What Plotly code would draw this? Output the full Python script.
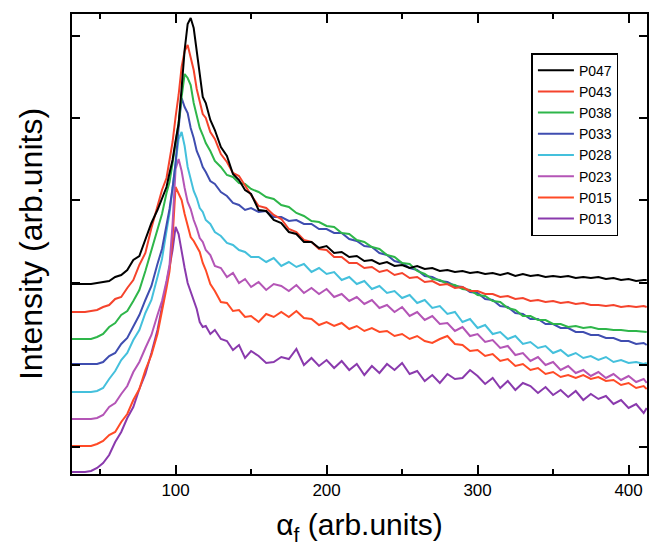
import plotly.graph_objects as go

# x positions (alpha_f, arb. units)
alpha_f = [31, 36, 40, 44, 48, 52, 56, 60, 64, 68,
           72, 76, 80, 84, 88, 91, 94, 96, 98, 100,
           102, 104, 106, 108, 110, 112, 114, 116, 118, 120,
           123, 126, 130, 134, 138, 142, 146, 150, 155, 160,
           165, 170, 175, 180, 185, 190, 195, 200, 205, 210,
           215, 220, 225, 230, 235, 240, 245, 250, 255, 260,
           265, 270, 275, 280, 285, 290, 295, 300, 305, 310,
           315, 320, 325, 330, 335, 340, 345, 350, 355, 360,
           365, 370, 375, 380, 385, 390, 395, 400, 405, 410,
           412]

i_p047 = [190, 190, 190, 190, 191, 192, 193, 197, 199, 204,
          214, 218, 234, 251, 264, 276, 287, 301, 314, 333,
          350, 386, 424, 450, 456, 446, 424, 399, 377, 371,
          354, 344, 327, 318, 300, 294, 284, 280, 264, 263,
          254, 251, 242, 240, 232, 232, 226, 228, 221, 222,
          217, 218, 213, 214, 210, 212, 208, 209, 206, 208,
          205, 206, 203, 204, 202, 203, 201, 202, 200, 201,
          199, 201, 198, 200, 198, 199, 197, 198, 197, 198,
          196, 197, 196, 197, 195, 196, 194, 195, 193, 194,
          194]

i_p043 = [162, 162, 162, 163, 164, 167, 169, 175, 177, 186,
          194, 209, 221, 246, 268, 284, 296, 315, 332, 357,
          379, 407, 423, 429, 417, 404, 385, 372, 360, 356,
          342, 335, 320, 312, 301, 298, 288, 279, 268, 266,
          259, 255, 245, 242, 234, 232, 225, 224, 217, 217,
          211, 211, 206, 207, 202, 204, 199, 201, 196, 197,
          192, 193, 189, 190, 186, 187, 183, 183, 180, 180,
          177, 178, 175, 176, 173, 174, 172, 173, 171, 172,
          170, 171, 169, 169, 168, 169, 167, 168, 167, 168,
          167]

i_p038 = [135, 135, 135, 135, 137, 140, 147, 151, 159, 163,
          173, 184, 203, 224, 246, 260, 281, 292, 311, 329,
          351, 377, 400, 396, 389, 371, 359, 346, 339, 331,
          323, 313, 307, 299, 297, 291, 290, 285, 282, 277,
          275, 269, 267, 261, 258, 253, 252, 248, 247, 241,
          240, 234, 232, 227, 225, 219, 217, 211, 210, 203,
          200, 195, 194, 190, 189, 185, 184, 179, 178, 173,
          172, 166, 164, 158, 158, 154, 154, 150, 150, 147,
          148, 146, 147, 145, 145, 144, 144, 143, 143, 142,
          142]

i_p033 = [110, 110, 110, 110, 110, 112, 118, 121, 130, 136,
          148, 159, 174, 188, 210, 225, 249, 265, 286, 311,
          346, 376, 367, 361, 346, 336, 323, 316, 307, 302,
          293, 290, 282, 278, 271, 269, 264, 266, 262, 263,
          257, 257, 253, 254, 250, 250, 245, 245, 241, 241,
          235, 233, 228, 227, 221, 219, 213, 211, 206, 204,
          198, 197, 193, 192, 188, 187, 182, 181, 175, 174,
          168, 167, 161, 160, 155, 155, 150, 150, 146, 146,
          142, 142, 139, 139, 136, 136, 133, 133, 130, 131,
          129]

i_p028 = [82, 82, 82, 82, 83, 86, 95, 103, 114, 121,
          134, 144, 161, 174, 197, 215, 243, 261, 286, 312,
          335, 342, 328, 307, 295, 283, 276, 266, 262, 254,
          250, 242, 238, 231, 229, 224, 222, 217, 217, 212,
          216, 208, 212, 207, 210, 202, 206, 200, 202, 194,
          197, 190, 193, 185, 188, 181, 183, 176, 179, 171,
          174, 166, 168, 160, 162, 152, 155, 146, 149, 140,
          142, 135, 138, 130, 132, 126, 128, 121, 124, 118,
          121, 116, 118, 114, 117, 112, 114, 111, 112, 110,
          111]

i_p023 = [55, 55, 55, 55, 56, 59, 67, 71, 80, 88,
          102, 112, 126, 139, 159, 173, 193, 209, 250, 305,
          315, 303, 286, 272, 265, 254, 246, 236, 232, 224,
          219, 208, 206, 197, 201, 191, 195, 187, 192, 184,
          190, 188, 183, 189, 181, 186, 180, 185, 177, 180,
          173, 177, 170, 174, 166, 169, 162, 167, 158, 162,
          154, 158, 150, 151, 143, 147, 138, 140, 132, 134,
          126, 128, 119, 121, 113, 117, 109, 112, 104, 108,
          101, 104, 98, 102, 96, 100, 94, 98, 92, 95,
          91]

i_p015 = [28, 28, 28, 28, 30, 33, 39, 42, 52, 60,
          74, 85, 104, 119, 140, 162, 186, 203, 236, 287,
          281, 274, 260, 249, 237, 233, 228, 222, 211, 204,
          190, 183, 172, 171, 163, 164, 157, 158, 152, 160,
          157, 162, 157, 163, 156, 155, 149, 152, 148, 151,
          145, 148, 143, 146, 142, 143, 138, 140, 135, 138,
          133, 131, 135, 138, 130, 129, 123, 124, 118, 120,
          113, 115, 108, 110, 104, 106, 100, 102, 97, 99,
          96, 99, 95, 97, 93, 94, 89, 91, 86, 88,
          85]

i_p013 = [2, 2, 2, 3, 6, 11, 19, 32, 42, 56,
          67, 85, 100, 121, 144, 167, 189, 207, 224, 247,
          240, 221, 206, 191, 183, 173, 165, 152, 147, 148,
          140, 144, 135, 133, 124, 129, 116, 123, 118, 111,
          112, 117, 115, 125, 109, 116, 108, 114, 106, 113,
          104, 110, 99, 108, 101, 110, 104, 111, 100, 103,
          93, 99, 91, 100, 95, 96, 104, 98, 90, 96,
          86, 93, 84, 91, 88, 81, 87, 79, 84, 77,
          83, 74, 80, 75, 78, 70, 74, 66, 70, 61,
          66]

sample_names = ["P013", "P015", "P023", "P028", "P033", "P038", "P043", "P047"]
sample_values = [i_p013, i_p015, i_p023, i_p028, i_p033, i_p038, i_p043, i_p047]
sample_colors = ["#8a3aad", "#ff4a26", "#b455b6", "#44c0dc", "#3f4db0", "#2eb64a", "#f5432c", "#000000"]

x_ticks = [100, 200, 300, 400]
y_tick_start = 27
y_tick_step = 82.2

fig = go.Figure()
for name, vals, col in zip(sample_names, sample_values, sample_colors):
    fig.add_trace(go.Scatter(x=alpha_f, y=vals, mode="lines", name=name,
                             line=dict(color=col, width=2)))

axis_common = dict(showgrid=False, zeroline=False, showline=True, linecolor="black",
                   linewidth=2, mirror="ticks", ticks="inside", tickcolor="black",
                   tickwidth=1.5)

fig.update_layout(
    width=649, height=548,
    margin=dict(l=72, r=0, t=14, b=74),
    paper_bgcolor="white", plot_bgcolor="white",
    font=dict(family="Liberation Sans, Arial, sans-serif", color="black"),
    legend=dict(x=0.799, y=0.915, xanchor="left", yanchor="top",
                bordercolor="black", borderwidth=1.5, bgcolor="white",
                font=dict(size=14), traceorder="reversed", tracegroupgap=0,
                itemwidth=36),
    xaxis=dict(range=[31.4, 412.2], tickmode="array", tickvals=x_ticks,
               ticklen=9, tickfont=dict(size=17),
               minor=dict(dtick=50, tick0=0, ticklen=5, ticks="inside",
                          tickcolor="black", tickwidth=1.5),
               title=dict(text="α<sub>f</sub> (arb.units)", font=dict(size=30), standoff=15),
               **axis_common),
    yaxis=dict(range=[0, 460], tick0=y_tick_start, dtick=y_tick_step, ticklen=8,
               showticklabels=False,
               title=dict(text="Intensity (arb.units)", font=dict(size=32), standoff=18),
               **axis_common),
)

fig.write_html("out.html")
